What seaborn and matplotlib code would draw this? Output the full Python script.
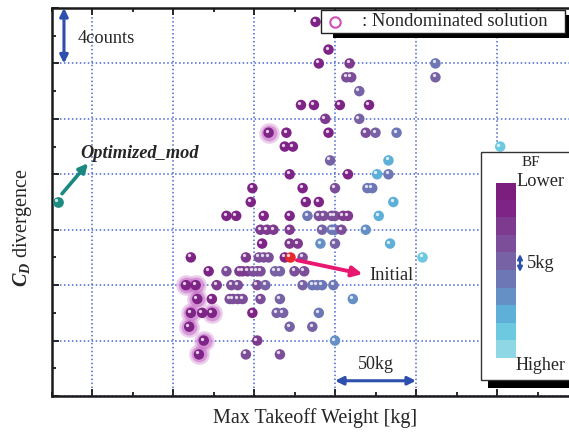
import numpy as np
import pandas as pd
import matplotlib
matplotlib.use("Agg")
import matplotlib.pyplot as plt
import seaborn as sns
from matplotlib.colors import ListedColormap
from matplotlib.patches import Rectangle, FancyArrowPatch
from matplotlib.lines import Line2D
from matplotlib.transforms import offset_copy

# Design samples: max takeoff weight (kg, relative to first grid line),
# C_D divergence (counts) and BF class (0 = lower ... 9 = higher)
mtow_kg = [138,
           146,
           140, 159, 212,
           157, 160, 212,
           165,
           129, 137, 153, 171,
           144, 165,
           109, 120, 146, 169, 175, 188,
           119, 124, 252,
           147, 183,
           122, 158, 176, 183,
           99, 130, 150, 170, 173,
           98, 132, 140, 186,
           83, 89, 106, 122, 133, 140, 143, 148, 150, 155, 158, 177,
           104, 108, 112, 122, 142, 148, 150, 154, 169,
           105, 122, 127, 141, 150, 184,
           61, 95, 103, 106, 109, 119, 130, 204,
           72, 83, 91, 93, 96, 99, 102, 104, 113, 116, 125, 131,
           58, 64, 77, 86, 90, 102, 107, 130, 136, 139, 142, 149,
           65, 74, 85, 87, 90, 93, 104, 116, 161,
           61, 68, 74, 99, 114, 118, 140,
           60, 122, 136,
           69, 102, 150,
           66, 95, 116]

cd_counts = [27,
             25,
             24, 24, 24,
             23, 23, 23,
             22,
             21, 21, 21, 21,
             20, 20,
             19, 19, 19, 19, 19, 19,
             18, 18, 18,
             17, 17,
             16, 16, 16, 16,
             15, 15, 15, 15, 15,
             14, 14, 14, 14,
             13, 13, 13, 13, 13, 13, 13, 13, 13, 13, 13, 13,
             12, 12, 12, 12, 12, 12, 12, 12, 12,
             11, 11, 11, 11, 11, 11,
             10, 10, 10, 10, 10, 10, 10, 10,
             9, 9, 9, 9, 9, 9, 9, 9, 9, 9, 9, 9,
             8, 8, 8, 8, 8, 8, 8, 8, 8, 8, 8, 8,
             7, 7, 7, 7, 7, 7, 7, 7, 7,
             6, 6, 6, 6, 6, 6, 6,
             5, 5, 5,
             4, 4, 4,
             3, 3, 3]

bf_class = [1,
            1,
            1, 2, 5,
            3, 3, 4,
            4,
            1, 1, 1, 1,
            2, 4,
            1, 1, 1, 3, 4, 5,
            1, 1, 8,
            4, 7,
            1, 1, 7, 5,
            1, 1, 3, 5, 5,
            1, 1, 1, 7,
            1, 1, 1, 1, 5, 3, 3, 3, 3, 2, 2, 7,
            2, 2, 2, 2, 4, 5, 5, 3, 6,
            1, 2, 2, 6, 4, 7,
            1, 2, 3, 3, 3, 1, 3, 8,
            1, 3, 2, 2, 2, 3, 3, 3, 4, 4, 3, 3,
            1, 1, 2, 3, 3, 3, 4, 4, 5, 5, 5, 5,
            1, 1, 3, 3, 3, 3, 3, 4, 6,
            1, 1, 1, 1, 4, 4, 5,
            1, 4, 4,
            1, 2, 6,
            1, 3, 3]

# Nondominated solutions
nd_mtow = [58, 64, 65, 61, 74, 60, 69, 66, 109]
nd_cd = [8, 8, 7, 6, 6, 5, 4, 3, 19]

# Reference designs
initial_mtow, initial_cd = [122], [10]
optimized_mtow, optimized_cd = [-21], [14]

# BF colour classes, lower (top) to higher (bottom)
bf_colors = ["#7B1E7E", "#7E2487", "#7E3A8E", "#7C4E99", "#7762A5",
             "#6E77B6", "#6590C6", "#5FB0D8", "#6CC9DF", "#8FD7E4"]

sns.set_style("ticks")
plt.rcParams["font.family"] = ["Liberation Serif", "DejaVu Serif"]
plt.rcParams["mathtext.fontset"] = "custom"
plt.rcParams["mathtext.rm"] = "Liberation Serif"
plt.rcParams["mathtext.it"] = "Liberation Serif:italic:bold"

W, H = 569, 433
fig = plt.figure(figsize=(W / 100, H / 100), dpi=100)


def fx(px):
    return px / W


def fy(py):
    return 1 - py / H


ax = fig.add_axes([fx(51.5), fy(396), fx(578) - fx(51.5), fy(8) - fy(396)])
ax.set_xlim(-25, 300)
ax.set_ylim(0, 28)

df = pd.DataFrame({"mtow": mtow_kg, "cd": cd_counts, "bf": bf_class})
palette = {i: c for i, c in enumerate(bf_colors)}

# glow behind the nondominated designs
ax.scatter(nd_mtow, nd_cd, s=220, color="#dba6dc", alpha=0.55, lw=0, zorder=2)
ax.scatter(nd_mtow, nd_cd, s=130, color="#c868c8", alpha=0.55, lw=0, zorder=2)

sns.scatterplot(data=df, x="mtow", y="cd", hue="bf", palette=palette,
                s=57, edgecolor="none", linewidth=0, legend=False, ax=ax,
                zorder=3)
ax.scatter(initial_mtow, initial_cd, s=57, color="#e8282a", lw=0, zorder=4)
ax.scatter(optimized_mtow, optimized_cd, s=60, color="#1f8c82", lw=0, zorder=4)

# specular highlights to give the markers a spherical look
hl = offset_copy(ax.transData, fig=fig, x=-1.3, y=1.4, units="points")
for xs, ys in ((mtow_kg, cd_counts), (initial_mtow, initial_cd),
               (optimized_mtow, optimized_cd)):
    ax.scatter(xs, ys, s=5.5, color="white", alpha=0.8, lw=0,
               transform=hl, zorder=5)

ax.set_xticks(np.arange(0, 301, 50))
ax.set_xticks(np.arange(-25, 301, 25), minor=True)
ax.set_yticks(np.arange(0, 29, 4))
ax.set_yticks(np.arange(0, 29, 2), minor=True)
ax.tick_params(which="both", direction="in", top=True, right=True,
               bottom=True, left=True, labelbottom=False, labelleft=False,
               color="#1a1a1a", width=1.3)
ax.tick_params(which="major", length=5)
ax.tick_params(which="minor", length=3)
ax.grid(True, which="major", color="#4a66d2", linestyle=(0, (1, 1.6)),
        linewidth=1.1)
ax.set_axisbelow(True)
for sp in ax.spines.values():
    sp.set_linewidth(1.8)
    sp.set_color("#1a1a1a")

ax.set_xlabel("Max Takeoff Weight [kg]", fontsize=14.5)
ax.xaxis.label.set_va("center")
ax.xaxis.set_label_coords(0.5, -0.057)
ax.set_ylabel(r"$C_D$ divergence", fontsize=14.5)
ax.yaxis.label.set_va("center")
ax.yaxis.set_label_coords(-0.056, 0.433)

blue = "#2d4fae"
ax.annotate("", xy=(-17.3, 28), xytext=(-17.3, 24),
            arrowprops=dict(arrowstyle="<|-|>", color=blue, lw=2.2,
                            mutation_scale=12, shrinkA=0, shrinkB=0),
            zorder=6)
ax.text(-8.6, 25.8, "4counts", fontsize=13.2, va="center", ha="left")

ax.annotate("", xy=(150, 1.1), xytext=(200, 1.1),
            arrowprops=dict(arrowstyle="<|-|>", color=blue, lw=2.2,
                            mutation_scale=12, shrinkA=0, shrinkB=0),
            zorder=6)
ax.text(175, 2.3, "50kg", fontsize=13, ha="center", va="center")

teal = "#1a8a80"
ax.annotate("", xy=(-2.5, 16.8), xytext=(-18.5, 14.6),
            arrowprops=dict(arrowstyle="-|>", color=teal, lw=2.6,
                            mutation_scale=13, shrinkA=0, shrinkB=0),
            zorder=6)
ax.text(-7.4, 17.5, "Optimized_mod", fontsize=13.2, style="italic",
        weight="bold", ha="left", va="center")

ax.annotate("", xy=(167, 8.8), xytext=(126.5, 9.8),
            arrowprops=dict(arrowstyle="-|>", color="#e8176f", lw=2.8,
                            mutation_scale=15, shrinkA=0, shrinkB=0),
            zorder=6)
ax.text(171, 8.66, "Initial", fontsize=13.2, ha="left", va="center")

# legend box with drop shadow
fig.add_artist(Rectangle((fx(333), fy(38)), fx(575) - fx(333), fy(15) - fy(38),
                         transform=fig.transFigure, facecolor="black",
                         edgecolor="none", zorder=3))
fig.add_artist(Rectangle((fx(321), fy(33)), fx(565) - fx(321), fy(10) - fy(33),
                         transform=fig.transFigure, facecolor="white",
                         edgecolor="#222222", lw=1.0, zorder=3.1))
fig.add_artist(Line2D([fx(335)], [fy(22)], marker="o", markersize=7.5,
                      markerfacecolor="none", markeredgecolor="#d050b8",
                      markeredgewidth=1.5, transform=fig.transFigure,
                      zorder=3.2))
fig.text(fx(362), fy(22), ": Nondominated solution", fontsize=13.4,
         ha="left", va="center", zorder=3.2)

# BF colour scale box with drop shadow
fig.add_artist(Rectangle((fx(488), fy(388)), fx(600) - fx(488), fy(159) - fy(388),
                         transform=fig.transFigure, facecolor="black",
                         edgecolor="none", zorder=3))
fig.add_artist(Rectangle((fx(481), fy(380)), fx(600) - fx(481), fy(152) - fy(380),
                         transform=fig.transFigure, facecolor="white",
                         edgecolor="#333333", lw=1.0, zorder=3.1))
cax = fig.add_axes([fx(496), fy(358), fx(516) - fx(496), fy(183) - fy(358)])
cax.set_zorder(4)
cax.imshow(np.arange(len(bf_colors)).reshape(-1, 1),
           cmap=ListedColormap(bf_colors), aspect="auto",
           interpolation="nearest")
cax.axis("off")
fig.text(fx(531), fy(163), "BF", fontsize=11, ha="center", va="center",
         zorder=5)
fig.text(fx(516), fy(181), "Lower", fontsize=13.2, ha="left", va="center",
         zorder=5)
fig.text(fx(516), fy(366), "Higher", fontsize=13, ha="left", va="center",
         zorder=5)
fig.text(fx(527), fy(263), "5kg", fontsize=13.2, ha="left", va="center",
         zorder=5)
fig.add_artist(FancyArrowPatch((fx(520), fy(272)), (fx(520), fy(254)),
                               transform=fig.transFigure,
                               arrowstyle="<|-|>", mutation_scale=7,
                               color=blue, lw=1.6, shrinkA=0, shrinkB=0,
                               zorder=5))

fig.savefig("out.png", dpi=100)
